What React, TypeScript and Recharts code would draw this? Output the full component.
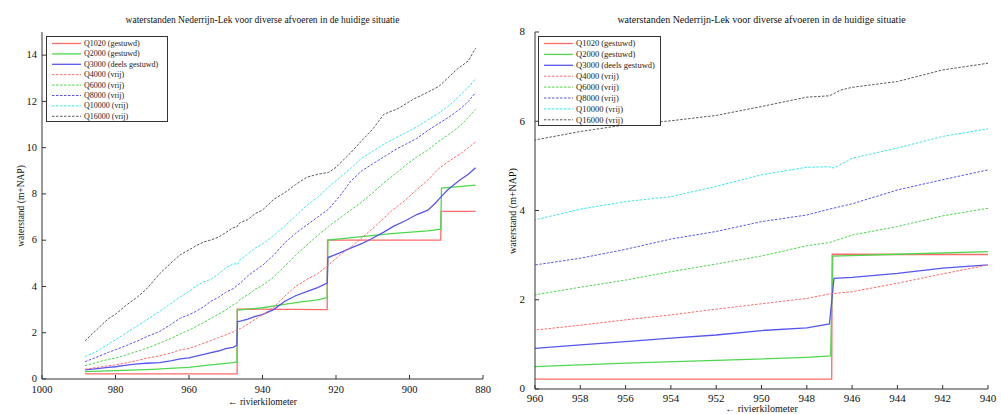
import { LineChart, Line, XAxis, YAxis } from 'recharts';

// rivierkilometer / waterstand (m+NAP)
const q1020: [number, number][] = [
  [988.3, 0.22], [946.9, 0.22], [946.88, 3.02], [922.4, 3.0], [922.3, 6.0],
  [891.5, 6.0], [891.4, 7.25], [882, 7.25],
];
const q2000: [number, number][] = [
  [988.3, 0.32], [980, 0.36], [970, 0.42], [964, 0.47], [960, 0.5], [956, 0.58],
  [952, 0.64], [948, 0.71], [946.95, 0.74], [946.85, 2.98], [944, 3.02], [940, 3.08],
  [935, 3.2], [930, 3.32], [925, 3.42], [922.4, 3.52], [922.2, 6.0], [915, 6.12],
  [905, 6.28], [895, 6.4], [891.5, 6.48], [891.3, 8.25], [882, 8.38],
];
const q3000: [number, number][] = [
  [988.3, 0.39], [985, 0.45], [982, 0.5], [980, 0.53], [977, 0.6], [974, 0.65],
  [971.5, 0.68], [968, 0.71], [965, 0.78], [962.4, 0.87], [960, 0.91], [958, 0.99],
  [956, 1.06], [954, 1.14], [952, 1.21], [950, 1.31], [948, 1.37], [947.0, 1.46],
  [946.8, 2.48], [946, 2.5], [944, 2.59], [942, 2.71], [940, 2.78], [937, 3.0],
  [934, 3.35], [931, 3.6], [928, 3.78], [925, 3.95], [922.4, 4.15], [922.2, 5.25],
  [919, 5.45], [916, 5.66], [913, 5.85], [910.7, 6.03], [907, 6.35], [904.4, 6.6],
  [901, 6.85], [898, 7.11], [895, 7.3], [893, 7.6], [891, 7.95], [889.5, 8.19],
  [886.3, 8.6], [884, 8.85], [882, 9.13],
];
const q4000: [number, number][] = [
  [988.3, 0.42], [985, 0.5], [982, 0.57], [980, 0.61], [977, 0.7], [974, 0.8],
  [971.5, 0.9], [968, 1.0], [965, 1.12], [962.4, 1.26], [960, 1.32], [958, 1.43],
  [956, 1.55], [954, 1.66], [952, 1.79], [950, 1.91], [948, 2.03], [947, 2.13],
  [946, 2.18], [944, 2.37], [942, 2.58], [940, 2.78], [937, 3.1], [934, 3.57],
  [931, 4.0], [928, 4.3], [925, 4.55], [922.5, 4.87], [919, 5.35], [916, 5.7],
  [913.5, 6.03], [910, 6.5], [907, 6.95], [905, 7.25], [901, 7.75], [898, 8.19],
  [895, 8.6], [892, 9.1], [889, 9.45], [886, 9.75], [884, 10.0], [882, 10.25],
];
const q6000: [number, number][] = [
  [988.3, 0.58], [985, 0.72], [982, 0.85], [980, 0.9], [977, 1.05], [974, 1.2],
  [971.5, 1.33], [968, 1.55], [965, 1.75], [962.4, 1.95], [960, 2.11], [958, 2.28],
  [956, 2.44], [954, 2.63], [952, 2.8], [950, 2.98], [948, 3.21], [947, 3.28],
  [946, 3.45], [944, 3.64], [942, 3.88], [940, 4.05], [937, 4.4], [934, 4.87],
  [931, 5.35], [928, 5.78], [925, 6.2], [922, 6.6], [919, 6.95], [916, 7.3],
  [913, 7.65], [910, 8.05], [907, 8.48], [904, 8.85], [901, 9.25], [898, 9.6],
  [895, 9.9], [892, 10.28], [889, 10.6], [886, 10.98], [884, 11.3], [882, 11.66],
];
const q8000: [number, number][] = [
  [988.3, 0.75], [985, 0.95], [982, 1.15], [980, 1.26], [977, 1.45], [974, 1.65],
  [971.5, 1.83], [968, 2.05], [965, 2.35], [962.4, 2.63], [960, 2.78], [958, 2.93],
  [956, 3.13], [954, 3.36], [952, 3.53], [950, 3.75], [948, 3.9], [947, 4.03],
  [946, 4.15], [944, 4.46], [942, 4.69], [940, 4.91], [937, 5.35], [934, 5.88],
  [931, 6.3], [928, 6.65], [925, 7.0], [922, 7.35], [919, 7.9], [916, 8.55],
  [913, 9.0], [910, 9.3], [907, 9.6], [904, 9.9], [901, 10.15], [898, 10.4],
  [895, 10.75], [892, 11.05], [889, 11.35], [886, 11.7], [884, 12.0], [882, 12.38],
];
const q10000: [number, number][] = [
  [988.3, 0.97], [985, 1.2], [982, 1.5], [980, 1.69], [977, 2.0], [974, 2.3],
  [971.5, 2.56], [968, 2.92], [965, 3.25], [962.4, 3.55], [960, 3.79], [958, 4.03],
  [956, 4.2], [954, 4.31], [952, 4.54], [950, 4.8], [948, 4.97], [947, 4.98],
  [946.8, 4.95], [946, 5.17], [944, 5.4], [942, 5.66], [940, 5.83], [937, 6.2],
  [934, 6.6], [931, 7.05], [928, 7.5], [925, 7.85], [922, 8.3], [919, 8.7],
  [916, 9.1], [913, 9.55], [910, 9.85], [907, 10.15], [904, 10.4], [901, 10.65],
  [898, 10.9], [895, 11.2], [892, 11.5], [889, 11.85], [886, 12.3], [884, 12.6],
  [882, 13.0],
];
const q16000: [number, number][] = [
  [988.3, 1.65], [985, 2.15], [982, 2.6], [980, 2.8], [977, 3.2], [974, 3.55],
  [971.5, 3.9], [968, 4.55], [965, 5.0], [962.4, 5.37], [960, 5.58], [958, 5.77],
  [956, 5.92], [954, 6.01], [952, 6.13], [950, 6.33], [948, 6.54], [947, 6.57],
  [946.5, 6.7], [946, 6.76], [944, 6.89], [942, 7.15], [940, 7.3], [937, 7.76],
  [934, 8.05], [931, 8.4], [928, 8.72], [925, 8.85], [922, 8.93], [920, 9.15],
  [916, 9.78], [913, 10.3], [910, 10.8], [907, 11.44], [903, 11.7], [899, 12.09],
  [895, 12.4], [892, 12.65], [889, 13.1], [887, 13.4], [884, 13.75], [882, 14.3],
];

const xTicksLeft = [1000, 980, 960, 940, 920, 900, 880];
const yTicksLeft = [0, 2, 4, 6, 8, 10, 12, 14];
const xTicksRight = [960, 958, 956, 954, 952, 950, 948, 946, 944, 942, 940];
const yTicksRight = [0, 2, 4, 6, 8];

const TITLE = 'waterstanden Nederrijn-Lek voor diverse afvoeren in de huidige situatie';
const FONT = '"Liberation Serif", "Times New Roman", serif';

const series = [
  { name: 'Q1020 (gestuwd)', pts: q1020, color: '#ff6a6a', dash: undefined, w: 1.3 },
  { name: 'Q2000 (gestuwd)', pts: q2000, color: '#4ed84e', dash: undefined, w: 1.3 },
  { name: 'Q3000 (deels gestuwd)', pts: q3000, color: '#5656f0', dash: undefined, w: 1.3 },
  { name: 'Q4000 (vrij)', pts: q4000, color: '#ff6a6a', dash: '2.5 1.5', w: 1 },
  { name: 'Q6000 (vrij)', pts: q6000, color: '#4ed84e', dash: '2.5 1.5', w: 1 },
  { name: 'Q8000 (vrij)', pts: q8000, color: '#5656f0', dash: '2.5 1.5', w: 1 },
  { name: 'Q10000 (vrij)', pts: q10000, color: '#3ee6e6', dash: '2.5 1.5', w: 1 },
  { name: 'Q16000 (vrij)', pts: q16000, color: '#5a5a5a', dash: '2.5 1.5', w: 1 },
].map((s) => ({ ...s, data: s.pts.map(([km, h]) => ({ km, h })) }));

const AXIS = '#333';

// matlab style: ticks point into the plot box
function BottomTick({ x, y, payload, fs, gap }: any) {
  return (
    <g>
      <line x1={x} y1={y} x2={x} y2={y - 4} stroke={AXIS} />
      <text x={x} y={y + fs + gap} textAnchor="middle" fontSize={fs} fontFamily={FONT} fill="#111">
        {payload.value}
      </text>
    </g>
  );
}
function TopTick({ x, y }: any) {
  return <line x1={x} y1={y} x2={x} y2={y + 4} stroke={AXIS} />;
}
function LeftTick({ x, y, payload, fs, gap }: any) {
  return (
    <g>
      <line x1={x} y1={y} x2={x + 4} y2={y} stroke={AXIS} />
      <text x={x - gap} y={y} dy="0.3em" textAnchor="end" fontSize={fs} fontFamily={FONT} fill="#111">
        {payload.value}
      </text>
    </g>
  );
}
function RightTick({ x, y }: any) {
  return <line x1={x} y1={y} x2={x - 4} y2={y} stroke={AXIS} />;
}

interface PanelProps {
  left: number;
  width: number;
  yAxisWidth: number;
  xAxisHeight: number;
  marginRight: number;
  xDomain: [number, number];
  xTicks: number[];
  yDomain: [number, number];
  yTicks: number[];
  fs: number;
  tickGap: number;
  yTickGap: number;
  yLabelX: number;
  titleY: number;
  xLabelY: number;
  legend: { x: number; y: number; w: number; h: number; row: number; fs: number };
}

function Panel(p: PanelProps) {
  const H = 414;
  const plotTop = 32;
  const plotBottom = H - p.xAxisHeight;
  const plotCenterX = p.yAxisWidth + (p.width - p.yAxisWidth - p.marginRight) / 2;
  const lg = p.legend;
  const labelStyle = { fontFamily: FONT, fontSize: p.fs - 1, color: '#111', whiteSpace: 'nowrap' as const, lineHeight: 1 };
  return (
    <div style={{ position: 'absolute', left: p.left, top: 0, width: p.width, height: H }}>
      <LineChart
        width={p.width}
        height={H}
        margin={{ top: plotTop, right: p.marginRight, bottom: 0, left: 0 }}
      >
        <XAxis
          dataKey="km"
          type="number"
          domain={p.xDomain}
          ticks={p.xTicks}
          reversed
          allowDataOverflow
          height={p.xAxisHeight}
          tickSize={0}
          tickMargin={0}
          stroke={AXIS}
          tick={<BottomTick fs={p.fs} gap={p.tickGap} />}
          interval={0}
        />
        <XAxis
          xAxisId="top"
          orientation="top"
          dataKey="km"
          type="number"
          domain={p.xDomain}
          ticks={p.xTicks}
          reversed
          allowDataOverflow
          height={0}
          tickSize={0}
          tickMargin={0}
          stroke={AXIS}
          tick={<TopTick />}
          interval={0}
        />
        <YAxis
          type="number"
          domain={p.yDomain}
          ticks={p.yTicks}
          allowDataOverflow
          width={p.yAxisWidth}
          tickSize={0}
          tickMargin={0}
          stroke={AXIS}
          tick={<LeftTick fs={p.fs} gap={p.yTickGap} />}
          interval={0}
        />
        <YAxis
          yAxisId="right"
          orientation="right"
          type="number"
          domain={p.yDomain}
          ticks={p.yTicks}
          allowDataOverflow
          width={0}
          tickSize={0}
          tickMargin={0}
          stroke={AXIS}
          tick={<RightTick />}
          interval={0}
        />
        {series.map((s) => (
          <Line
            key={s.name}
            name={s.name}
            data={s.data}
            dataKey="h"
            type="linear"
            stroke={s.color}
            strokeWidth={s.w}
            strokeDasharray={s.dash}
            dot={false}
            activeDot={false}
            isAnimationActive={false}
          />
        ))}
      </LineChart>

      <div style={{ ...labelStyle, position: 'absolute', left: plotCenterX, top: p.titleY, transform: 'translateX(-50%)' }}>
        {TITLE}
      </div>
      <div style={{ ...labelStyle, position: 'absolute', left: plotCenterX, top: p.xLabelY, transform: 'translateX(-50%)' }}>
        ← rivierkilometer
      </div>
      <div
        style={{
          ...labelStyle,
          position: 'absolute', left: p.yLabelX, top: (plotTop + plotBottom) / 2,
          transform: 'translate(-50%, -50%) rotate(-90deg)',
        }}
      >
        waterstand (m+NAP)
      </div>

      <svg
        style={{ position: 'absolute', left: lg.x, top: lg.y, overflow: 'visible' }}
        width={lg.w}
        height={lg.h}
      >
        <rect x={0.5} y={0.5} width={lg.w - 1} height={lg.h - 1} fill="#fff" stroke={AXIS} />
        {series.map((s, i) => {
          const cy = 7.5 + i * lg.row;
          return (
            <g key={s.name}>
              <line x1={6} x2={35} y1={cy} y2={cy} stroke={s.color} strokeWidth={s.w} strokeDasharray={s.dash} />
              <text x={38} y={cy} dy="0.32em" fontSize={lg.fs} fontFamily={FONT} fill="#222">
                {s.name}
              </text>
            </g>
          );
        })}
      </svg>
    </div>
  );
}

export default function App() {
  return (
    <div style={{ position: 'absolute', left: 0, top: 0, width: 1001, height: 414, background: '#fff', overflow: 'hidden' }}>
      <Panel
        left={0}
        width={500}
        yAxisWidth={42}
        xAxisHeight={35}
        marginRight={17}
        xDomain={[880, 1000]}
        xTicks={xTicksLeft}
        yDomain={[0, 15]}
        yTicks={yTicksLeft}
        fs={10.5}
        tickGap={3}
        yTickGap={5}
        yLabelX={22}
        titleY={16}
        xLabelY={398}
        legend={{ x: 46, y: 36, w: 122, h: 86, row: 10.4, fs: 8 }}
      />
      <Panel
        left={500}
        width={501}
        yAxisWidth={35}
        xAxisHeight={25}
        marginRight={13}
        xDomain={[940, 960]}
        xTicks={xTicksRight}
        yDomain={[0, 8]}
        yTicks={yTicksRight}
        fs={11}
        tickGap={2}
        yTickGap={10}
        yLabelX={13}
        titleY={15}
        xLabelY={403.5}
        legend={{ x: 38, y: 36, w: 123, h: 90, row: 10.9, fs: 8.5 }}
      />
    </div>
  );
}
